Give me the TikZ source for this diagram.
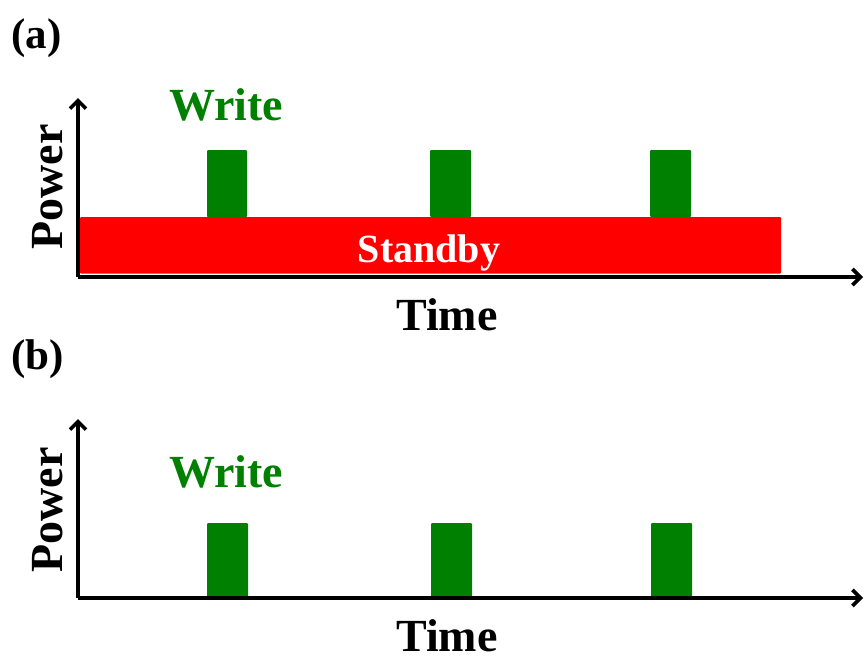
\documentclass[tikz,border=0pt]{standalone}
\usepackage{fontspec}
\setmainfont{Liberation Serif}
\usetikzlibrary{arrows.meta}
\definecolor{wgreen}{RGB}{0,128,0}
\definecolor{sred}{RGB}{255,0,0}
\begin{document}
\begin{tikzpicture}[x=1pt,y=-1pt,
  axis/.style={line width=3.2pt,-{Straight Barb[length=8pt,width=16pt,line width=3.6pt]}},
  bar/.style={fill=wgreen,draw=none,rounded corners=1pt},
  standbybox/.style={fill=sred,draw=none,rounded corners=1pt},
  lbl/.style={font=\fontsize{43}{46}\selectfont\bfseries,inner sep=0pt},
  wlbl/.style={font=\fontsize{46}{50}\selectfont\bfseries,text=wgreen,inner sep=0pt,anchor=base west},
  axlbl/.style={font=\fontsize{46}{50}\selectfont\bfseries,inner sep=0pt,anchor=base},
  sblbl/.style={font=\fontsize{40}{44}\selectfont\bfseries,text=white,inner sep=0pt,anchor=base}]
\useasboundingbox (0,0) rectangle (864,659);
% ---------- panel (a)
\node[lbl,anchor=base west] (la) at (11,48) {(a)};
\coordinate (oa) at (78,277);
\coordinate (ya) at (78,98);
\coordinate (xa) at (863,277);
\fill[standbybox] (80,217) rectangle (781,273.5);
\node[sblbl] (sbt) at (429,262) {Standby};
\fill[bar] (207,150) rectangle (247,217);
\fill[bar] (430,150) rectangle (471,217);
\fill[bar] (650,150) rectangle (691,217);
\draw[axis] (oa) -- (ya);
\draw[axis] (oa) -- (xa);
\node[wlbl] (wa) at (169,120) {Write};
\node[axlbl,rotate=90] (pa) at (62,187) {Power};
\node[axlbl] (ta) at (447,330) {Time};
% ---------- panel (b)
\node[lbl,anchor=base west] (lb) at (11,369) {(b)};
\coordinate (ob) at (78,598);
\coordinate (yb) at (78,419);
\coordinate (xb) at (863,598);
\fill[bar] (207,523) rectangle (248,598);
\fill[bar] (431,523) rectangle (472,598);
\fill[bar] (651,523) rectangle (692,598);
\draw[axis] (ob) -- (yb);
\draw[axis] (ob) -- (xb);
\node[wlbl] (wb) at (169,487) {Write};
\node[axlbl,rotate=90] (pb) at (62,510) {Power};
\node[axlbl] (tb) at (447,651) {Time};
\end{tikzpicture}
\end{document}
